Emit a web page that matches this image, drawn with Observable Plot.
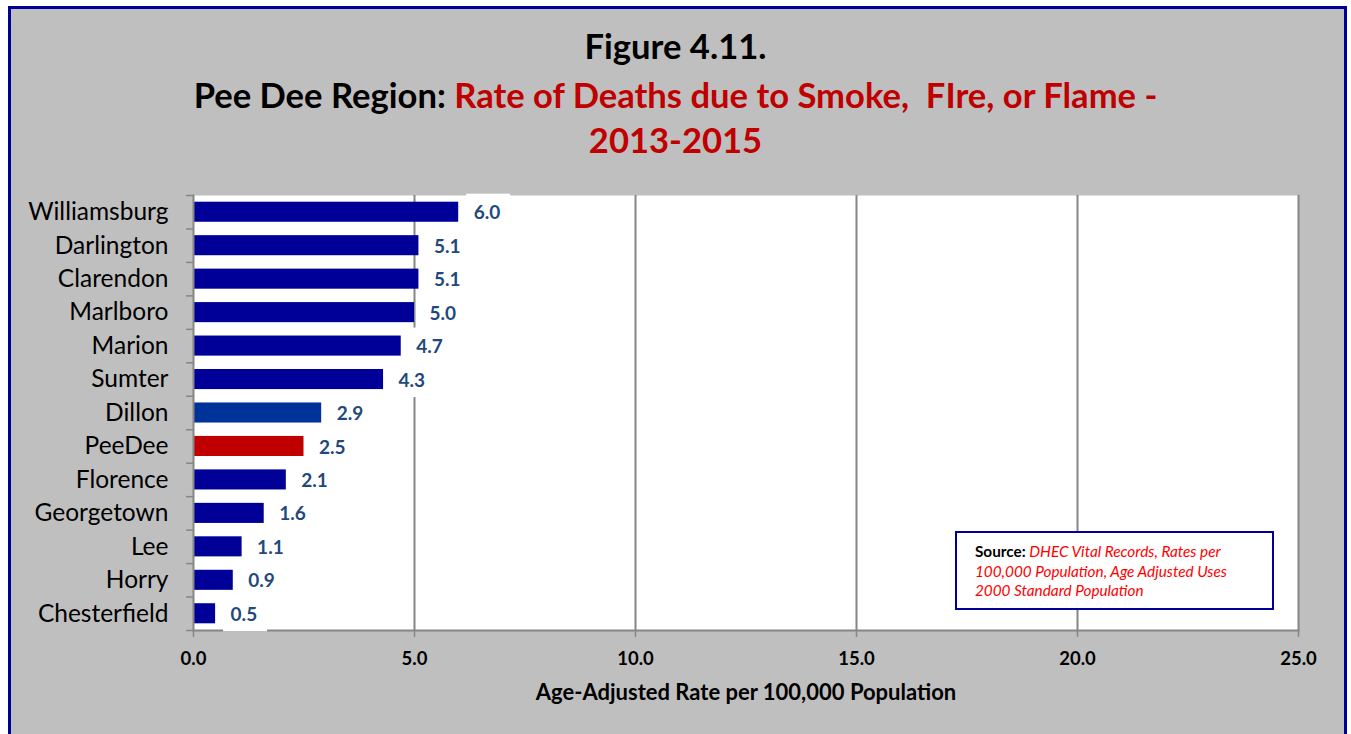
<!DOCTYPE html>
<html><head><meta charset="utf-8">
<script src="https://cdn.jsdelivr.net/npm/d3@7"></script>
<script src="https://cdn.jsdelivr.net/npm/@observablehq/plot@0.6"></script>
<style>
body{margin:0;background:#fff;width:1351px;height:734px;overflow:hidden;font-family:Lato,"Open Sans",sans-serif;position:relative;}
#frame{position:absolute;left:8px;top:6px;width:1333px;height:760px;border:3px solid #000099;background:#BFBFBF;}
.t{position:absolute;left:0;width:1351px;text-align:center;font-weight:bold;font-size:34.6px;line-height:40px;color:#000;white-space:nowrap;}
.red{color:#C00000}
#chart{position:absolute;left:0;top:0}
#source{position:absolute;left:955px;top:531px;width:319px;height:79px;box-sizing:border-box;border:2px solid #000099;background:#fff;font-size:15.3px;line-height:19.5px;padding:9px 0 0 18px;color:#FF0000;font-style:italic;white-space:nowrap;}
#source b{color:#000;font-style:normal;}
</style></head>
<body>
<div id="frame"></div>
<div class="t" style="top:26px">Figure 4.11.</div>
<div class="t" style="top:75px">Pee Dee Region: <span class="red">Rate of Deaths due to Smoke,&nbsp; FIre, or Flame -</span></div>
<div class="t red" style="top:120px">2013-2015</div>
<div id="chart"></div>
<div id="source"><b>Source:</b> DHEC Vital Records, Rates per<br>100,000 Population, Age Adjusted Uses<br>2000 Standard Population</div>
<script>
const counties = ["Williamsburg","Darlington","Clarendon","Marlboro","Marion","Sumter","Dillon","PeeDee","Florence","Georgetown","Lee","Horry","Chesterfield"];
const rates = [6.0,5.1,5.1,5.0,4.7,4.3,2.9,2.5,2.1,1.6,1.1,0.9,0.5];
const xTicks = [0,5,10,15,20,25];
const xTitle = "Age-Adjusted Rate per 100,000 Population";

const data = counties.map((c,i)=>({county:c, rate:rates[i]}));
const W = 1351, H = 734, mT = 195, mB = 104, mL = 193, mR = 53;
const step = (H - mT - mB) / counties.length;
const gray = "#868686";
const barColor = d => d.county === "PeeDee" ? "#C00000" : d.county === "Dillon" ? "#003399" : "#000099";

const chart = Plot.plot({
  width: W, height: H, marginTop: mT, marginBottom: mB, marginLeft: mL, marginRight: mR,
  style: {background:"transparent", fontFamily:"Lato, 'Open Sans', sans-serif", color:"#000", overflow:"visible"},
  x: {domain:[0,25], ticks:xTicks, tickFormat:d=>d.toFixed(1), label:null},
  y: {domain:counties, paddingInner:0.4, paddingOuter:0.2, round:false, label:null},
  marks: [
    Plot.frame({fill:"white", stroke:null}),
    Plot.ruleX(xTicks.slice(1), {stroke:gray, strokeWidth:2}),
    Plot.barX(data, {x:"rate", y:"county", fill:barColor}),
    Plot.axisY({tickSize:0, tickPadding:25, fontSize:24.5}),
    Plot.axisY({tickSize:7, text:null, dy:-step/2, stroke:gray, strokeWidth:1.5}),
    Plot.axisY({ticks:[counties[counties.length-1]], tickSize:7, text:null, dy:step/2, stroke:gray, strokeWidth:1.5}),
    Plot.frame({anchor:"left", stroke:gray, strokeWidth:2}),
    Plot.frame({anchor:"bottom", stroke:gray, strokeWidth:2}),
    Plot.axisX({ticks:xTicks, tickFormat:d=>d.toFixed(1), tickSize:7, tickPadding:14, fontSize:18.5, fontWeight:"bold", stroke:gray, strokeWidth:1.5}),
    // white label boxes behind data labels (as in the original)
    Plot.barX(data, {x1:"rate", x2:"rate", y:"county", dx:8, insetRight:-44, insetTop:-8, insetBottom:-8, fill:"white"}),
    Plot.text(data, {x:"rate", y:"county", text:d=>d.rate.toFixed(1), textAnchor:"start", dx:15, dy:1, fill:"#1F497D", fontWeight:"bold", fontSize:19}),
    Plot.text([xTitle], {frameAnchor:"bottom", dy:69, fontSize:22, fontWeight:"bold", fill:"#000"})
  ]
});
document.getElementById("chart").appendChild(chart);
</script>
</body></html>
